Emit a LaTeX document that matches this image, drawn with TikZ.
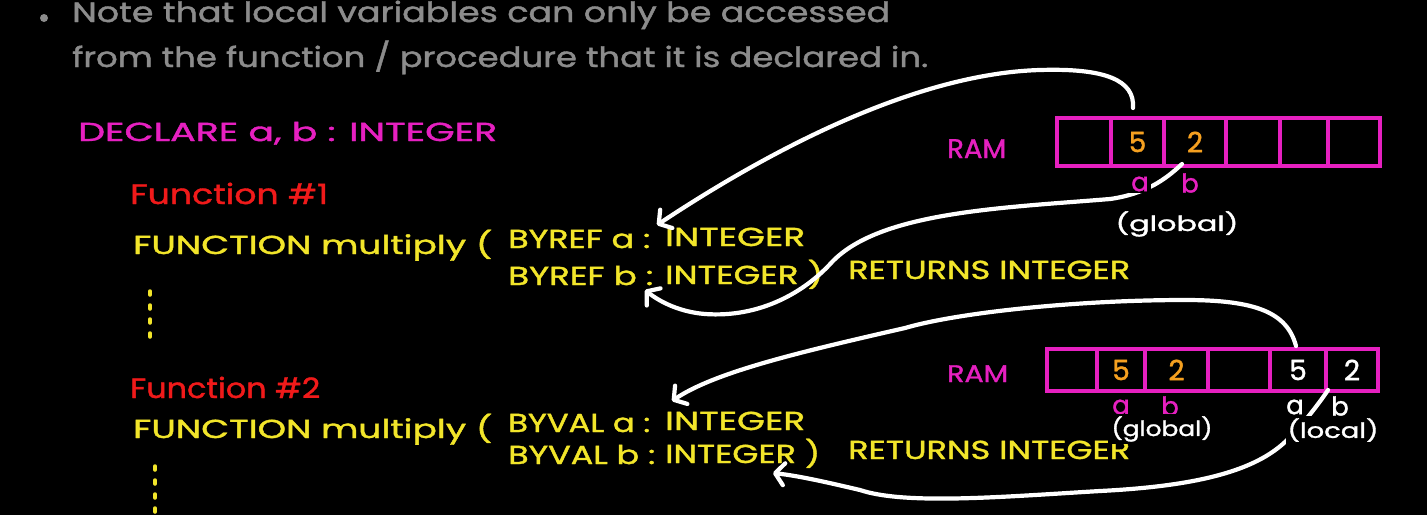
\documentclass[tikz,border=0pt]{standalone}
\usepackage{fontspec}
\setmainfont{Poppins}[FakeBold=1.3]
\usetikzlibrary{arrows.meta,calc}
\definecolor{mag}{HTML}{E620C0}
\definecolor{yel}{HTML}{F2E52A}
\definecolor{redf}{HTML}{F01A1A}
\definecolor{org}{HTML}{F5A020}
\definecolor{gry}{HTML}{8C8C8C}
\newcommand{\fitw}[2]{\resizebox{#1pt}{\height}{#2}}
\begin{document}
\begin{tikzpicture}[x=1pt,y=-1pt,
  txt/.style={anchor=base west, inner sep=0pt},
  code/.style={txt, text=yel, font=\fontsize{26}{30}\selectfont},
  notetxt/.style={txt, text=gry, font=\fontsize{28}{32}\selectfont},
  fhead/.style={txt, text=redf, font=\fontsize{28}{32}\selectfont},
  ramlbl/.style={txt, text=mag, font=\fontsize{27}{30}\selectfont},
  cell/.style={draw=mag, line width=3.5pt, minimum height=#1, inner sep=0pt, font=\fontsize{28}{30}\selectfont},
  var/.style={inner sep=2pt, fill=black, font=\fontsize{26}{28}\selectfont},
  scope/.style={inner sep=2pt, fill=black, text=white, font=\fontsize{21}{24}\selectfont},
  wire/.style={white, line width=4.2pt, line cap=round, line join=round},
  tip/.style={-{Straight Barb[length=9pt,width=22pt,round]}},
  dots/.style={yel, line width=3.5pt, line cap=round, dash pattern=on 4pt off 10pt}]
\fill[black] (0,0) rectangle (1427,515);
\useasboundingbox (0,0) rectangle (1427,515);

% note
\fill[gry] (44,18) circle (4);
\node[notetxt] (note1) at (72,22) {\fitw{818}{Note that local variables can only be accessed}};
\node[notetxt] (note2) at (72,67) {\fitw{856}{from the function / procedure that it is declared in.}};

% code
\node[txt, text=mag, font=\fontsize{26}{30}\selectfont] (decl) at (78,141) {\fitw{419}{DECLARE a, b : INTEGER}};
\node[fhead] (f1) at (130,204) {\fitw{198}{Function \#1}};
\node[code] (fa1) at (133,254) {\fitw{359}{FUNCTION multiply (}};
\node[code] (pa1) at (508,248) {\fitw{142}{BYREF a :}};
\node[code] (ia1) at (665,246) {\fitw{140}{INTEGER}};
\node[code] (pb1) at (508,285) {\fitw{145}{BYREF b :}};
\node[code] (ib1) at (665,284) {\fitw{158}{INTEGER )}};
\node[code] (rt1) at (848,279) {\fitw{282}{RETURNS INTEGER}};
\draw[dots] (150,291) -- (150,340);

\node[fhead] (f2) at (130,398) {\fitw{190}{Function \#2}};
\node[code] (fa2) at (133,438) {\fitw{359}{FUNCTION multiply (}};
\node[code] (pa2) at (508,432) {\fitw{142}{BYVAL a :}};
\node[code] (ia2) at (665,430) {\fitw{140}{INTEGER}};
\node[code] (pb2) at (508,464) {\fitw{147}{BYVAL b :}};
\node[code] (ib2) at (665,463) {\fitw{155}{INTEGER )}};
\node[code] (rt2) at (848,459) {\fitw{282}{RETURNS INTEGER}};
\draw[dots] (155,466) -- (155,520);

% RAM 1
\node[ramlbl] (ram1) at (947,158) {\fitw{59}{RAM}};
\node[cell=48pt, minimum width=54pt] (r1c1) at (1084,142) {};
\node[cell=48pt, minimum width=53pt, text=org] (r1c2) at (1137.5,142) {5};
\node[cell=48pt, minimum width=62pt, text=org] (r1c3) at (1195,142) {2};
\node[cell=48pt, minimum width=54pt] (r1c4) at (1253,142) {};
\node[cell=48pt, minimum width=48pt] (r1c5) at (1304,142) {};
\node[cell=48pt, minimum width=52pt] (r1c6) at (1354,142) {};

% RAM 2
\node[ramlbl, font=\fontsize{24}{28}\selectfont] (ram2) at (947,382) {\fitw{61}{RAM}};
\node[cell=42pt, minimum width=50pt] (r2c1) at (1072,370) {};
\node[cell=42pt, minimum width=48pt, text=org] (r2c2) at (1121,370) {5};
\node[cell=42pt, minimum width=63pt, text=org] (r2c3) at (1176.5,370) {2};
\node[cell=42pt, minimum width=62pt] (r2c4) at (1239,370) {};
\node[cell=42pt, minimum width=56pt, text=white] (r2c5) at (1298,370) {5};
\node[cell=42pt, minimum width=52pt, text=white] (r2c6) at (1352,370) {2};

% connectors
\coordinate (s1) at (1133,108);
\coordinate (t1) at (657,225);
\draw[wire, tip] (s1) .. controls (1135,80) and (1105,68) .. (1040,70)
  .. controls (900,74) and (740,170) .. (t1);

\coordinate (s2) at (1182,164);
\coordinate (t2) at (645,290);
\draw[wire, tip] (s2) .. controls (1165,180) and (1145,194) .. (1110,199)
  .. controls (1000,208) and (880,212) .. (832,262)
  .. controls (805,292) and (760,318) .. (705,314)
  .. controls (680,312) and (660,302) .. (t2);

\coordinate (s3) at (1296,346);
\coordinate (t3) at (672,401);
\draw[wire, tip] (s3) .. controls (1287,312) and (1255,300) .. (1185,300)
  .. controls (1080,300) and (960,312) .. (905,328)
  .. controls (800,352) and (715,372) .. (t3);

\coordinate (s4) at (1328,390);
\coordinate (t4) at (773,473);
\draw[wire, tip] (s4) .. controls (1318,405) and (1300,428) .. (1285,442)
  .. controls (1255,470) and (1200,486) .. (1100,491)
  .. controls (1000,497) and (905,505) .. (860,490)
  .. controls (830,483) and (800,476) .. (t4);

% variable labels
\node[var, text=mag] (a1) at (1140,184) {a};
\node[var, text=mag] (b1) at (1190,183) {b};
\node[scope] (g1) at (1177,224) {\fitw{123}{(global)}};

\node[var, text=mag] (a2) at (1121,407) {a};
\node[var, text=mag] (b2) at (1170,406) {b};
\node[scope] (g2) at (1162,429) {\fitw{101}{(global)}};
\node[var, text=white, fill=none] (a3) at (1295,407) {a};
\node[var, text=white, fill=none] (b3) at (1340,406) {b};
\node[scope] (l3) at (1333,430) {\fitw{91}{(local)}};
\end{tikzpicture}
\end{document}
